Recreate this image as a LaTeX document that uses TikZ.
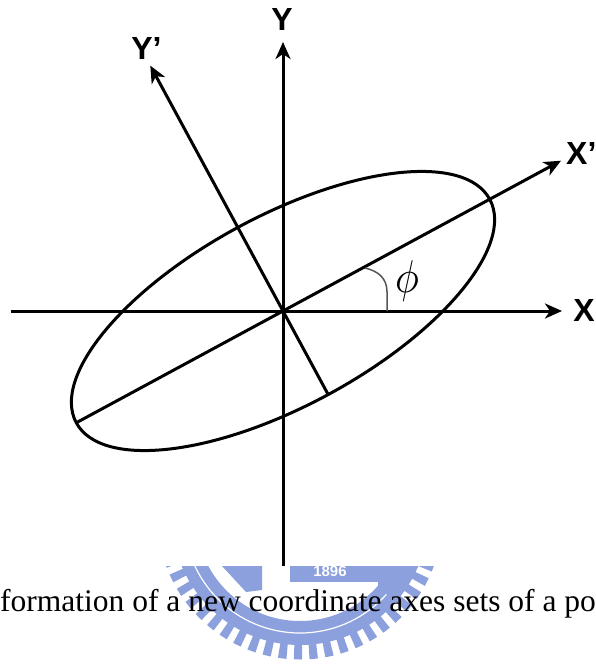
\documentclass[tikz,border=0pt]{standalone}
\usepackage{fontspec}
\usetikzlibrary{arrows.meta}
\newfontfamily\labfnt{Liberation Sans}
\newfontfamily\capfnt{Liberation Serif}
\definecolor{wm}{RGB}{140,160,222}
\definecolor{arcgray}{RGB}{85,85,85}
\begin{document}
\begin{tikzpicture}[x=1pt,y=-1pt,
  axis/.style={line width=3pt,-{Stealth[length=17pt,width=15pt,inset=5pt]}},
  plain/.style={line width=3pt},
  axlabel/.style={font=\labfnt\bfseries\fontsize{32}{36}\selectfont, inner sep=0pt},
  capstyle/.style={font=\capfnt\fontsize{31.5}{36}\selectfont, inner sep=0pt, anchor=base west},
]
\useasboundingbox (0,0) rectangle (596,664);
\clip (0,0) rectangle (596,664);

% watermark seal (faded)
\begin{scope}
\clip (0,566) rectangle (596,664);
\fill[wm, even odd rule] (300,517) circle[radius=128] (300,517) circle[radius=104];
\draw[white, line width=1.2pt] (300,517) circle[radius=116];
\draw[wm, line width=15pt, dash pattern=on 8pt off 7pt] (300,517) circle[radius=135];
\fill[wm] (290,562) rectangle (378,582);
\node[text=white, font=\labfnt\bfseries\fontsize{15}{16}\selectfont] (wmyear) at (330,571) {1896};
\fill[wm] (222,566) -- (262,566) -- (262,590) -- (246,592) -- cycle;
\fill[wm] (378,566) -- (406,566) -- (392,597) -- (378,590) -- cycle;
\end{scope}

% coordinates
\coordinate (O) at (283,311);
\coordinate (Xl) at (11,311);
\coordinate (Xr) at (562,311);
\coordinate (Yb) at (283,566);
\coordinate (Yt) at (283,42);
\coordinate (Xpt) at (561,160.7);
\coordinate (Xpb) at (76.2,422.8);
\coordinate (Ypt) at (150.3,65.6);
\coordinate (Ypb) at (328.2,394.6);

% ellipse
\draw[plain, rotate around={28.4:(O)}] (O) ellipse [x radius=235, y radius=95];

% axes
\draw[axis] (Xl) -- (Xr);
\draw[axis] (Yb) -- (Yt);
\draw[axis] (Xpb) -- (Xpt);
\draw[axis] (Ypb) -- (Ypt);

% angle mark
\coordinate (A1) at (365,268);
\coordinate (A2) at (387,292);
\coordinate (A3) at (387,311);
\draw[arcgray, line width=1.5pt] (A1) .. controls (378,271) and (387,278) .. (A2) -- (A3);

% labels
\node[axlabel] (Ylab) at (282,19) {Y};
\node[axlabel] (Xlab) at (584,310) {X};
\node[axlabel, anchor=west] (Xplab) at (566,153) {X’};
\node[axlabel] (Yplab) at (146.5,48.5) {Y’};
\node[inner sep=0pt] (phi) at (407,281) {\scalebox{4.0}[4.6]{$\phi$}};

% caption
\node[capstyle] (cap) at (0,611) {formation of a new coordinate axes sets of a po};
\end{tikzpicture}
\end{document}
